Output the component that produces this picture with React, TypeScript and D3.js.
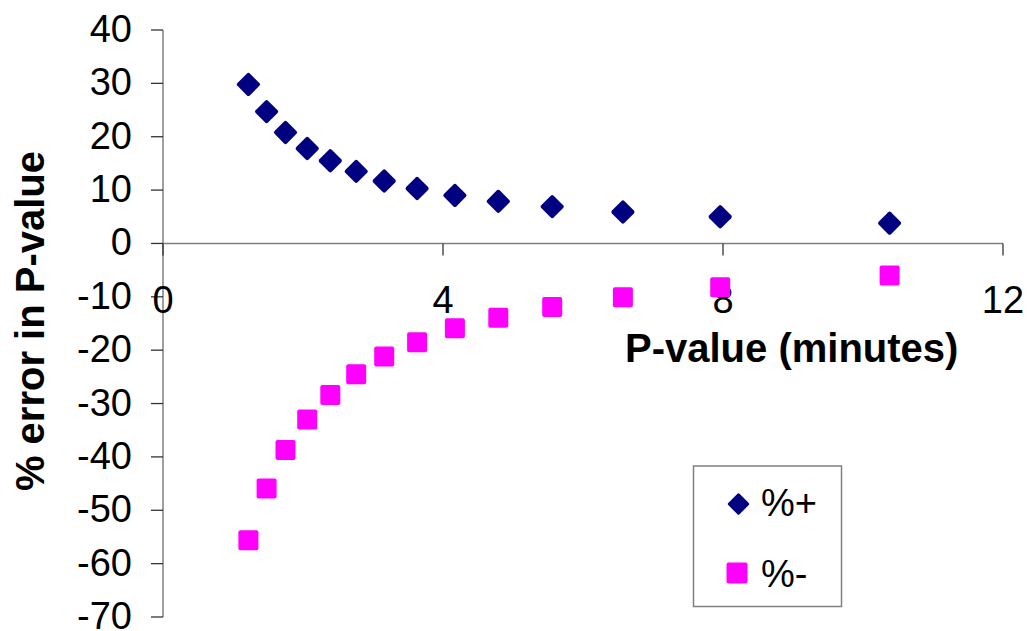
import React from "react";
import * as d3 from "d3";

const xValues = [1.22, 1.48, 1.75, 2.06, 2.39, 2.76, 3.16, 3.63, 4.17, 4.79, 5.56, 6.57, 7.96, 10.38];
const plusValues = [29.8, 24.7, 20.8, 17.8, 15.5, 13.5, 11.7, 10.3, 9.0, 7.9, 6.9, 5.9, 5.0, 3.8];
const minusValues = [-55.6, -45.9, -38.7, -33.0, -28.4, -24.5, -21.2, -18.5, -15.9, -13.9, -11.9, -10.1, -8.2, -6.0];
const xTicks = [0, 4, 8, 12];
const yTicks = [40, 30, 20, 10, 0, -10, -20, -30, -40, -50, -60, -70];
const seriesNames = ["%+", "%-"];
const xTitle = "P-value (minutes)";
const yTitle = "% error in P-value";

const W = 1030;
const H = 631;
const FONT = "'Liberation Sans', Arial, sans-serif";
const NAVY = "#000080";
const MAGENTA = "#FF00FF";
const AXIS = "#808080";

export default function App() {
  const x = d3.scaleLinear().domain([0, 12]).range([163, 1003]);
  const y = d3.scaleLinear().domain([-70, 40]).range([617, 30]);
  const x0 = x(0);
  const y0 = y(0);
  const dSide = 17.5;
  const sSide = 20;

  return (
    <svg
      width={W}
      height={H}
      style={{ position: "absolute", left: 0, top: 0, background: "#fff" }}
      fontFamily={FONT}
    >
      <rect x={0} y={0} width={W} height={H} fill="#fff" />
      {/* y axis */}
      <line x1={x0} x2={x0} y1={y(40)} y2={y(-70)} stroke={AXIS} strokeWidth={1.5} />
      {yTicks.map((t) => (
        <g key={"yt" + t}>
          <line x1={x0 - 12} x2={x0} y1={y(t)} y2={y(t)} stroke="#333" strokeWidth={1.3} />
          <text
            x={132}
            y={y(t) + 12}
            textAnchor="end"
            fontSize={38}
            fill="#000"
          >
            {t}
          </text>
        </g>
      ))}
      {/* x axis */}
      <line x1={x(0)} x2={x(12)} y1={y0} y2={y0} stroke={AXIS} strokeWidth={1.5} />
      {xTicks.map((t) => (
        <g key={"xt" + t}>
          <line x1={x(t)} x2={x(t)} y1={y0} y2={y0 + 12} stroke="#333" strokeWidth={1.3} />
          <text x={x(t)} y={313} textAnchor="middle" fontSize={38} fill="#000">
            {t}
          </text>
        </g>
      ))}
      {/* axis titles */}
      <text x={625} y={362} fontSize={40} fontWeight="bold" fill="#000">
        {xTitle}
      </text>
      <text
        transform={`translate(44, 321) rotate(-90)`}
        textAnchor="middle"
        fontSize={40}
        fontWeight="bold"
        fill="#000"
      >
        {yTitle}
      </text>
      {/* series + */}
      {xValues.map((xv, i) => (
        <rect
          key={"p" + i}
          x={-dSide / 2}
          y={-dSide / 2}
          width={dSide}
          height={dSide}
          rx={2}
          fill={NAVY}
          transform={`translate(${x(xv)}, ${y(plusValues[i])}) rotate(45)`}
        />
      ))}
      {/* series - */}
      {xValues.map((xv, i) => (
        <rect
          key={"m" + i}
          x={x(xv) - sSide / 2}
          y={y(minusValues[i]) - sSide / 2}
          width={sSide}
          height={sSide}
          rx={2}
          fill={MAGENTA}
        />
      ))}
      {/* legend */}
      <rect x={693.5} y={466} width={148} height={140.5} fill="#fff" stroke={AXIS} strokeWidth={1.5} />
      <rect
        x={-8}
        y={-8}
        width={16}
        height={16}
        rx={1.5}
        fill={NAVY}
        transform={`translate(738.5, 504) rotate(45)`}
      />
      <text x={761} y={516} fontSize={38} fill="#000">
        {seriesNames[0]}
      </text>
      <rect x={726.5} y={562.5} width={21} height={21} rx={2} fill={MAGENTA} />
      <text x={761} y={587} fontSize={38} fill="#000">
        {seriesNames[1]}
      </text>
    </svg>
  );
}
